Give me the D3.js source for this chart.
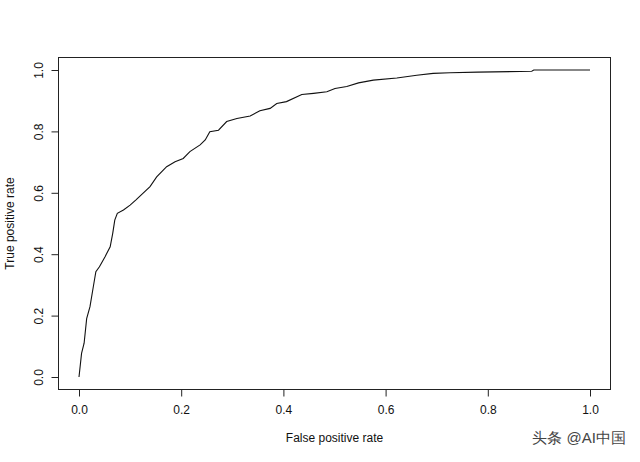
<!DOCTYPE html>
<html><head><meta charset="utf-8">
<script src="https://cdn.jsdelivr.net/npm/d3@7"></script>
<style>body{margin:0;background:#fff}svg{display:block}text{font-family:"Liberation Sans",Arial,sans-serif}</style>
</head><body>
<script>
const fpr = [0,0.005,0.010,0.015,0.0215,0.028,0.033,0.040,0.051,0.061,0.066,0.070,0.075,0.087,0.100,0.1115,0.125,0.139,0.152,0.1715,0.188,0.204,0.217,0.237,0.247,0.256,0.273,0.289,0.309,0.335,0.354,0.374,0.387,0.406,0.436,0.459,0.485,0.501,0.524,0.547,0.576,0.622,0.661,0.693,0.726,0.78,0.886,0.89,1.0];
const tpr = [0,0.077,0.110,0.190,0.229,0.294,0.343,0.359,0.392,0.424,0.468,0.511,0.533,0.544,0.560,0.577,0.598,0.620,0.652,0.685,0.701,0.712,0.734,0.756,0.772,0.799,0.804,0.832,0.842,0.850,0.867,0.875,0.891,0.897,0.920,0.924,0.929,0.940,0.946,0.958,0.967,0.974,0.983,0.989,0.991,0.993,0.996,1.0,1.0];
const ticks = [0,0.2,0.4,0.6,0.8,1.0];
const tickLabels = ["0.0","0.2","0.4","0.6","0.8","1.0"];
const xTitle = "False positive rate", yTitle = "True positive rate", watermark = "头条 @AI中国";

const W=640,H=462;
const svg=d3.select("body").append("svg").attr("width",W).attr("height",H);
const box={l:58.5,r:610.5,t:57.5,b:389.5};
const x=d3.scaleLinear().domain([0,1]).range([79,590]);
const y=d3.scaleLinear().domain([0,1]).range([377,70]);

svg.append("rect").attr("x",box.l).attr("y",box.t).attr("width",box.r-box.l).attr("height",box.b-box.t)
  .attr("fill","none").attr("stroke","#222").attr("stroke-width",1);

// x axis
const xa=svg.append("g").attr("transform",`translate(0,${box.b})`)
  .call(d3.axisBottom(x).tickValues(ticks).tickFormat((d,i)=>tickLabels[i]).tickSize(7).tickPadding(9));
xa.select(".domain").attr("stroke","#222").attr("d",`M${x(0)+0.5},0H${x(1)+0.5}`);
xa.selectAll("line").attr("stroke","#222");
xa.selectAll("text").attr("font-size",12).attr("fill","#111");

// y axis
const ya=svg.append("g").attr("transform",`translate(${box.l},0)`)
  .call(d3.axisLeft(y).tickValues(ticks).tickFormat((d,i)=>tickLabels[i]).tickSize(7).tickPadding(9));
ya.select(".domain").attr("stroke","#222").attr("d",`M0,${y(0)+0.5}V${y(1)+0.5}`);
ya.selectAll("line").attr("stroke","#222");
ya.selectAll("text").attr("font-size",12).attr("fill","#111")
  .attr("text-anchor","middle").attr("dy",null).attr("x",0).attr("y",0)
  .attr("transform","translate(-16,0) rotate(-90)");

svg.append("text").attr("x",(box.l+box.r)/2).attr("y",442).attr("text-anchor","middle").attr("font-size",12).attr("fill","#111").text(xTitle);
svg.append("text").attr("transform",`translate(14,${(box.t+box.b)/2}) rotate(-90)`).attr("text-anchor","middle").attr("font-size",12).attr("fill","#111").text(yTitle);

const line=d3.line().x((d,i)=>x(fpr[i])).y((d,i)=>y(tpr[i]));
svg.append("path").datum(fpr).attr("d",line).attr("fill","none").attr("stroke","#111").attr("stroke-width",1.1);

svg.append("text").attr("x",626).attr("y",443).attr("text-anchor","end").attr("font-size",15)
  .attr("font-family","'Noto Sans CJK SC',sans-serif").attr("fill","#444").text(watermark);
</script>
</body></html>
